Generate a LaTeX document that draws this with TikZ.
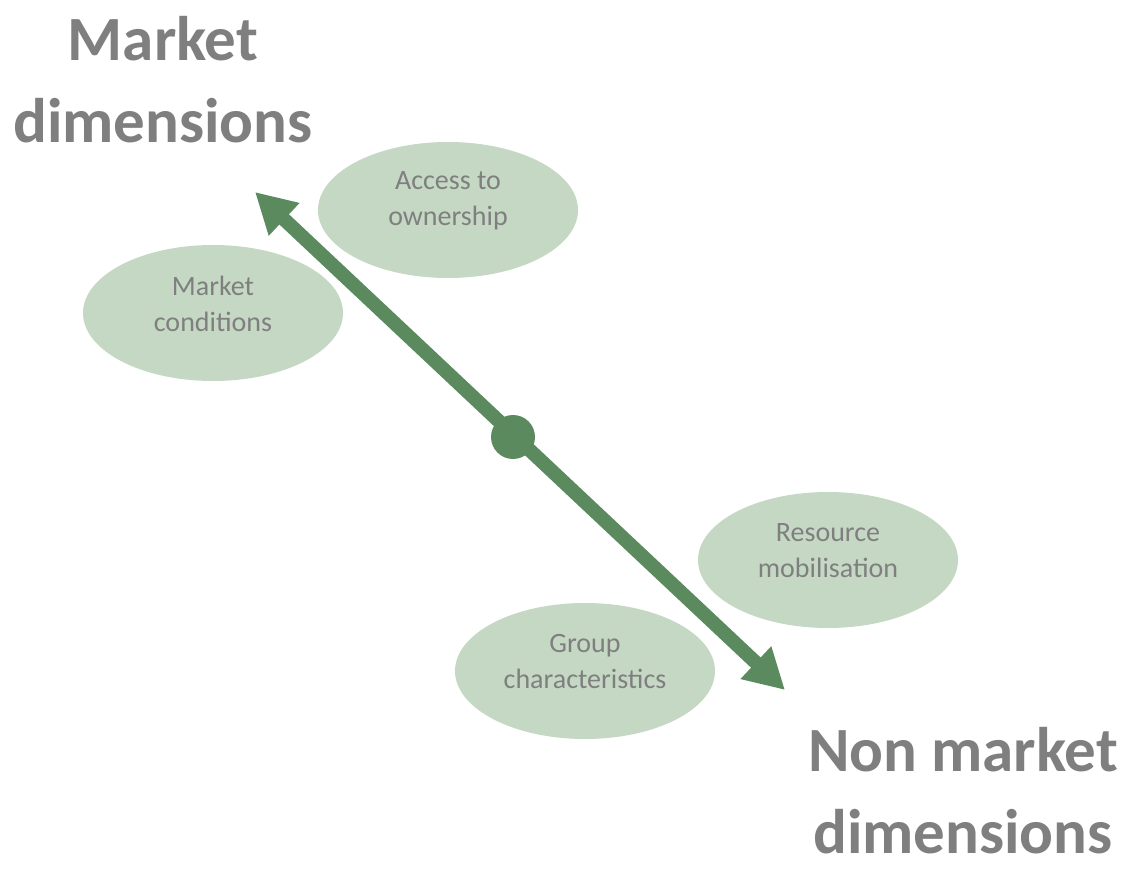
\documentclass[tikz,border=0pt]{standalone}
\usepackage{fontspec}
\setmainfont{Carlito}
\usepackage{tikz}
\usetikzlibrary{shapes.geometric,arrows.meta}
\definecolor{axisgreen}{HTML}{5A8A5D}
\definecolor{leafgreen}{HTML}{C5D8C4}
\definecolor{labelgray}{HTML}{7F7F7F}
\tikzset{dimension/.style={align=center,inner sep=0pt,text=labelgray,font=\fontsize{63}{82}\selectfont\bfseries},
	factor/.style={ellipse,fill=leafgreen,minimum width=260pt,minimum height=136pt},
	factortext/.style={align=center,text=labelgray,font=\fontsize{28}{36}\selectfont,yshift=9pt},
	axis/.style={draw=axisgreen,line width=14pt,
		{Triangle[length=40pt,width=42pt]}-{Triangle[length=40pt,width=42pt]}}}

\begin{document}
\begin{tikzpicture}[x=1pt,y=1pt]
\useasboundingbox (0,0) rectangle (1126,871);
\node [factor,label={[factortext]center:Access to\\ownership}] (own) at (448,661) {};
\node [factor,label={[factortext]center:Market\\conditions}] (cond) at (213,558) {};
\node [factor,label={[factortext]center:Resource\\mobilisation}] (res) at (828,311) {};
\node [factor,label={[factortext]center:Group\\characteristics}] (grp) at (585,200) {};
\coordinate (top) at (255,679);
\coordinate (bottom) at (785,181);
\draw [axis] (top) -- (bottom);
\node [circle,fill=axisgreen,minimum size=44pt,inner sep=0pt] (hub) at (513,434) {};
\node [dimension] (market) at (163,791) {Market\\dimensions};
\node [dimension] (nonmarket) at (963,80) {Non market\\dimensions};
\end{tikzpicture}
\end{document}
